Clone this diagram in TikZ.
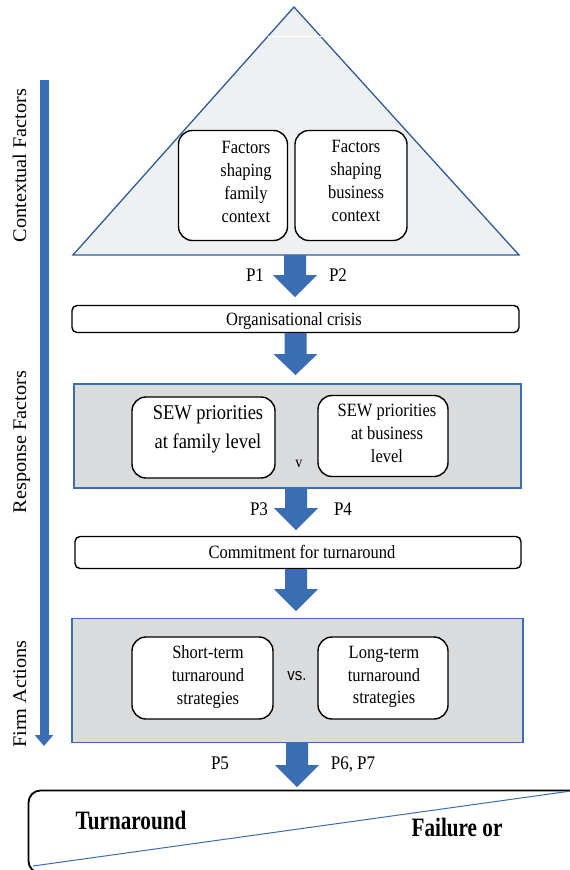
\documentclass[tikz,border=0pt]{standalone}
\usepackage{fontspec}
\setmainfont{Liberation Serif}[FakeStretch=0.88]
\newfontfamily\boldf{Liberation Serif}[FakeStretch=0.8]
\newfontfamily\sidef{Liberation Serif}[FakeStretch=1.05]
\newfontfamily\sansf{Liberation Sans}[FakeStretch=0.88]
\usetikzlibrary{arrows.meta}
\definecolor{arrowblue}{HTML}{3B6DB5}
\definecolor{arrowedge}{HTML}{2F5A99}
\definecolor{triborder}{HTML}{2E5C9A}
\definecolor{trifill}{HTML}{EFF0F2}
\definecolor{grayfill}{HTML}{DADBDD}
\newcommand\fatarrow[4]{% x, top, head start, tip
  \fill[arrowblue] (#1-11,#2) -- (#1+11,#2) -- (#1+11,#3) -- (#1+22,#3) -- (#1,#4) -- (#1-22,#3) -- (#1-11,#3) -- cycle;}
\begin{document}
\begin{tikzpicture}[x=1pt,y=-1pt,
  rbox/.style={draw=black, line width=1.4pt, fill=white, rounded corners=14pt, inner sep=0pt},
  flatbox/.style={draw=black, line width=1.4pt, fill=white, rounded corners=5pt, inner sep=0pt},
  graybox/.style={draw=arrowblue, line width=1.4pt, fill=grayfill, inner sep=0pt},
  txt/.style={align=center, inner sep=0pt, font=\fontsize{18.75}{22.7}\selectfont},
  ptxt/.style={inner sep=0pt, font=\fontsize{19.3}{22}\selectfont},
  side/.style={rotate=90, inner sep=0pt, anchor=base, font=\sidef\fontsize{19.3}{22}\selectfont},
  bold/.style={inner sep=0pt, font=\boldf\bfseries\fontsize{26.5}{30}\selectfont}]
\useasboundingbox (0,0) rectangle (570,870);
\fill[white] (0,0) rectangle (570,870);

% left timeline arrow
\draw[arrowblue, line width=9pt, -{Triangle[width=18pt,length=11pt]}] (44,80) -- (44,746);
\node[side] (lab1) at (26,165.5) {Contextual Factors};
\node[side] (lab2) at (26,442) {Response Factors};
\node[side] (lab3) at (26,694) {Firm Actions};

% triangle
\draw[triborder, line width=1.3pt, fill=trifill] (294,7) coordinate (apex) -- (519,255) coordinate (tr) -- (73,255) coordinate (tl) -- cycle;
\draw[white, line width=1pt] (268,36) -- (323,36);
\node[rbox, minimum width=109pt, minimum height=110pt] (b1) at (233,185.5) {};
\node[rbox, minimum width=112pt, minimum height=110pt] (b2) at (351,185.5) {};
\node[txt] (t1) at (246,182) {Factors\\shaping\\family\\context};
\node[txt] (t2) at (356,181) {Factors\\shaping\\business\\context};

\fatarrow{295}{255}{275}{297}
\node[ptxt] (p1) at (255,275) {P1};
\node[ptxt] (p2) at (338,275) {P2};

% crisis
\node[flatbox, minimum width=447pt, minimum height=27pt] (crisis) at (295.5,319) {};
\node[txt] (tcrisis) at (294,321) {Organisational crisis};
\fatarrow{295.5}{333}{354}{375}

% SEW
\node[graybox, minimum width=447pt, minimum height=104pt] (g1) at (297.5,436) {};
\node[rbox, minimum width=143pt, minimum height=81pt] (s1) at (203.5,437.5) {};
\node[rbox, minimum width=130pt, minimum height=81pt] (s2) at (383,436) {};
\node[align=center, inner sep=0pt, font=\fontsize{21}{29}\selectfont] (ts1) at (208,429) {SEW priorities\\at family level};
\node[txt] (ts2) at (387,433.5) {SEW priorities\\at business\\level};
\node[inner sep=0pt, font=\fontsize{16}{18}\selectfont] (v) at (299,464) {v};

\fatarrow{296}{488}{508}{530}
\node[ptxt] (p3) at (259,509) {P3};
\node[ptxt] (p4) at (343,509) {P4};

% commitment
\node[flatbox, minimum width=446pt, minimum height=32pt] (commit) at (298,552.5) {};
\node[txt] (tcommit) at (302,552) {Commitment for turnaround};
\fatarrow{296}{569}{589}{611}

% strategies
\node[graybox, minimum width=451pt, minimum height=124pt] (g2) at (297.5,680.5) {};
\node[rbox, minimum width=141pt, minimum height=82pt] (st1) at (202.5,678) {};
\node[rbox, minimum width=130pt, minimum height=82pt] (st2) at (383,678) {};
\node[txt] (tst1) at (208,677) {Short-term\\turnaround\\strategies};
\node[txt] (tst2) at (384,677) {Long-term\\turnaround\\strategies};
\node[inner sep=0pt, font=\sansf\fontsize{17}{20}\selectfont] (vs) at (297,676) {vs.};

\fatarrow{297}{743}{765}{787}
\node[ptxt] (p5) at (220,763) {P5};
\node[ptxt] (p67) at (353,765) {P6, P7};

% outcome
\draw[black, line width=1.8pt, rounded corners=12pt] (580,790.5) -- (28.5,790.5) -- (28.5,873) -- (580,873);
\draw[arrowblue, line width=1pt] (33,866) coordinate (dl) -- (571,791) coordinate (dr);
\node[bold] (turn) at (131,820) {Turnaround};
\node[bold] (fail) at (457,827) {Failure or};
\end{tikzpicture}
\end{document}
